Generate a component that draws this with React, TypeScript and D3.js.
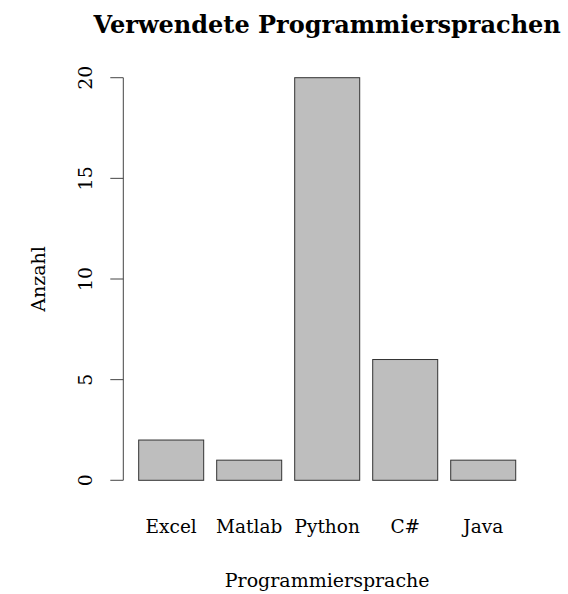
import { useEffect, useRef } from "react";
import * as d3 from "d3";

const sprachen = ["Excel", "Matlab", "Python", "C#", "Java"];
const anzahl = [2, 1, 20, 6, 1];
const yTicks = [0, 5, 10, 15, 20];

export default function App() {
  const svgRef = useRef<SVGSVGElement>(null);
  const width = 568;
  const height = 594;

  useEffect(() => {
    const svg = d3.select(svgRef.current);
    svg.selectAll("*").remove();

    const font = "'DejaVu Serif', 'Liberation Serif', serif";
    // plot region like R's barplot (4% axis extension)
    const left = 123.6, right = 530.8, top = 61.6, bottom = 496.4;

    const x = d3.scaleLinear().domain([-0.032, 6.232]).range([left, right]);
    const y = d3.scaleLinear().domain([-0.8, 20.8]).range([bottom, top]);

    const g = svg.append("g");

    // bars
    g.selectAll("rect.bar")
      .data(anzahl)
      .join("rect")
      .attr("class", "bar")
      .attr("x", (_, i) => x(0.2 + i * 1.2))
      .attr("width", x(1) - x(0))
      .attr("y", d => y(d))
      .attr("height", d => y(0) - y(d))
      .attr("fill", "#bebebe")
      .attr("stroke", "#333")
      .attr("stroke-width", 1);

    // y axis
    const axisX = left - 0.3;
    g.append("line")
      .attr("x1", axisX).attr("x2", axisX)
      .attr("y1", y(0)).attr("y2", y(20))
      .attr("stroke", "#444");
    g.selectAll("line.tick")
      .data(yTicks)
      .join("line")
      .attr("class", "tick")
      .attr("x1", axisX - 13).attr("x2", axisX)
      .attr("y1", d => y(d)).attr("y2", d => y(d))
      .attr("stroke", "#444");
    g.selectAll("text.ytick")
      .data(yTicks)
      .join("text")
      .attr("class", "ytick")
      .attr("transform", d => `translate(92, ${y(d)}) rotate(-90)`)
      .attr("text-anchor", "middle")
      .style("font-family", font)
      .style("font-size", "19px")
      .text(d => d);

    // category labels
    g.selectAll("text.cat")
      .data(sprachen)
      .join("text")
      .attr("class", "cat")
      .attr("x", (_, i) => x(0.7 + i * 1.2))
      .attr("y", 533)
      .attr("text-anchor", "middle")
      .style("font-family", font)
      .style("font-size", "18.5px")
      .text(d => d);

    // axis titles
    g.append("text")
      .attr("x", (left + right) / 2)
      .attr("y", 587)
      .attr("text-anchor", "middle")
      .style("font-family", font)
      .style("font-size", "19px")
      .text("Programmiersprache");
    g.append("text")
      .attr("transform", `translate(45, ${(top + bottom) / 2}) rotate(-90)`)
      .attr("text-anchor", "middle")
      .style("font-family", font)
      .style("font-size", "19px")
      .text("Anzahl");

    // title
    g.append("text")
      .attr("x", (left + right) / 2)
      .attr("y", 33)
      .attr("text-anchor", "middle")
      .style("font-family", font)
      .style("font-size", "24px")
      .style("font-weight", "bold")
      .text("Verwendete Programmiersprachen");
  }, []);

  return (
    <svg
      ref={svgRef}
      width={width}
      height={height}
      style={{ position: "absolute", left: 0, top: 0, background: "#fff" }}
    />
  );
}
